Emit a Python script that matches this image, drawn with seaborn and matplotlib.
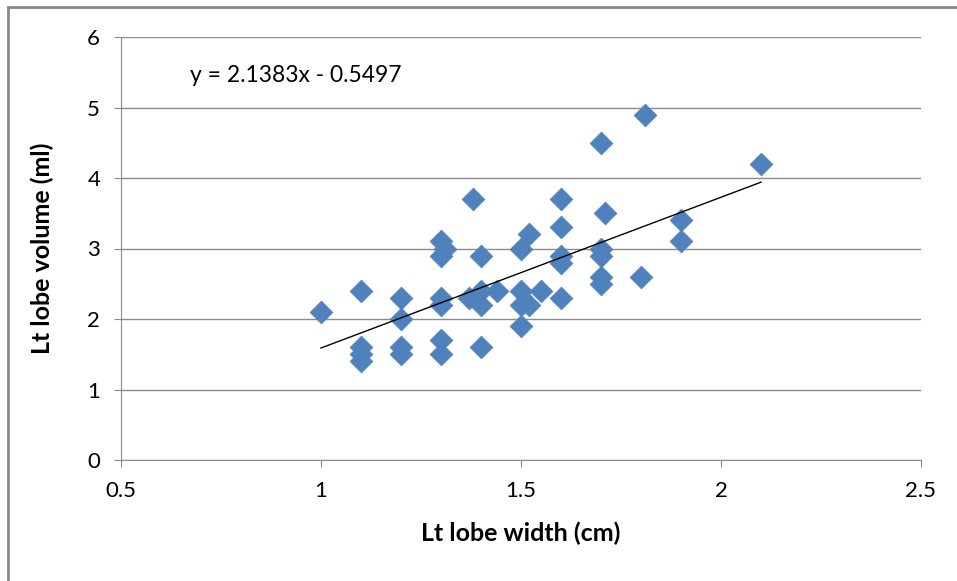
import matplotlib.pyplot as plt
import seaborn as sns
import numpy as np
import pandas as pd
from matplotlib.patches import Rectangle

# Lt lobe width (cm) and Lt lobe volume (ml)
width_cm = [1.0, 1.1, 1.1, 1.1, 1.1, 1.2, 1.2, 1.2, 1.2,
            1.3, 1.31, 1.3, 1.3, 1.3, 1.3, 1.3,
            1.38, 1.37, 1.4, 1.4, 1.44, 1.4, 1.4,
            1.5, 1.52, 1.5, 1.5, 1.52, 1.55, 1.5,
            1.6, 1.6, 1.6, 1.6, 1.6,
            1.7, 1.71, 1.7, 1.7, 1.7, 1.7,
            1.81, 1.8, 1.9, 1.9, 2.1]
volume_ml = [2.1, 2.4, 1.6, 1.5, 1.4, 2.3, 2.0, 1.6, 1.5,
             3.1, 3.0, 2.9, 2.3, 2.2, 1.7, 1.5,
             3.7, 2.3, 2.2, 2.4, 2.4, 2.9, 1.6,
             3.0, 3.2, 2.4, 2.2, 2.2, 2.4, 1.9,
             3.7, 3.3, 2.9, 2.8, 2.3,
             4.5, 3.5, 3.0, 2.9, 2.6, 2.5,
             4.9, 2.6, 3.4, 3.1, 4.2]

# linear trendline as printed on the chart
slope = 2.1383
intercept = -0.5497

df = pd.DataFrame({'width': width_cm, 'volume': volume_ml})

plt.rcParams['font.family'] = ['Lato', 'DejaVu Sans']
fig = plt.figure(figsize=(9.57, 5.81), dpi=100)
ax = fig.add_axes([121 / 957, 1 - 460 / 581, 800 / 957, 423 / 581])

sns.scatterplot(data=df, x='width', y='volume', marker='D', s=135,
                color='#4F81BD', edgecolor='#4F81BD', linewidth=0.5, ax=ax, zorder=3)

xs = np.array([min(width_cm), max(width_cm)])
ax.plot(xs, slope * xs + intercept, color='black', lw=1, zorder=4)

ax.set_xlim(0.5, 2.5)
ax.set_ylim(0, 6)
ax.set_xticks([0.5, 1, 1.5, 2, 2.5])
ax.set_xticklabels(['0.5', '1', '1.5', '2', '2.5'])
ax.set_yticks(range(0, 7))
ax.yaxis.grid(True, color='#8c8c8c', lw=1)
ax.set_axisbelow(True)
for s in ['top', 'right']:
    ax.spines[s].set_visible(False)
for s in ['left', 'bottom']:
    ax.spines[s].set_color('#8c8c8c')
ax.tick_params(axis='both', colors='#8c8c8c', labelcolor='black', labelsize=16,
               length=5, direction='out')
ax.tick_params(axis='x', pad=10)
ax.tick_params(axis='y', pad=10)

ax.set_xlabel('Lt lobe width (cm)', fontsize=18, fontweight='bold', labelpad=15)
ax.set_ylabel('Lt lobe volume (ml)', fontsize=18, fontweight='bold', labelpad=24)

fig.text(190 / 957, 1 - 75 / 581, 'y = 2.1383x - 0.5497', fontsize=16.5,
         ha='left', va='center')

# chart outer frame
fig.patches.append(Rectangle((8 / 957, -0.05), 1.0, 1 - 7 / 581 + 0.05,
                             transform=fig.transFigure, fill=False,
                             edgecolor='#888888', lw=2))

plt.savefig('out.png', dpi=100)
